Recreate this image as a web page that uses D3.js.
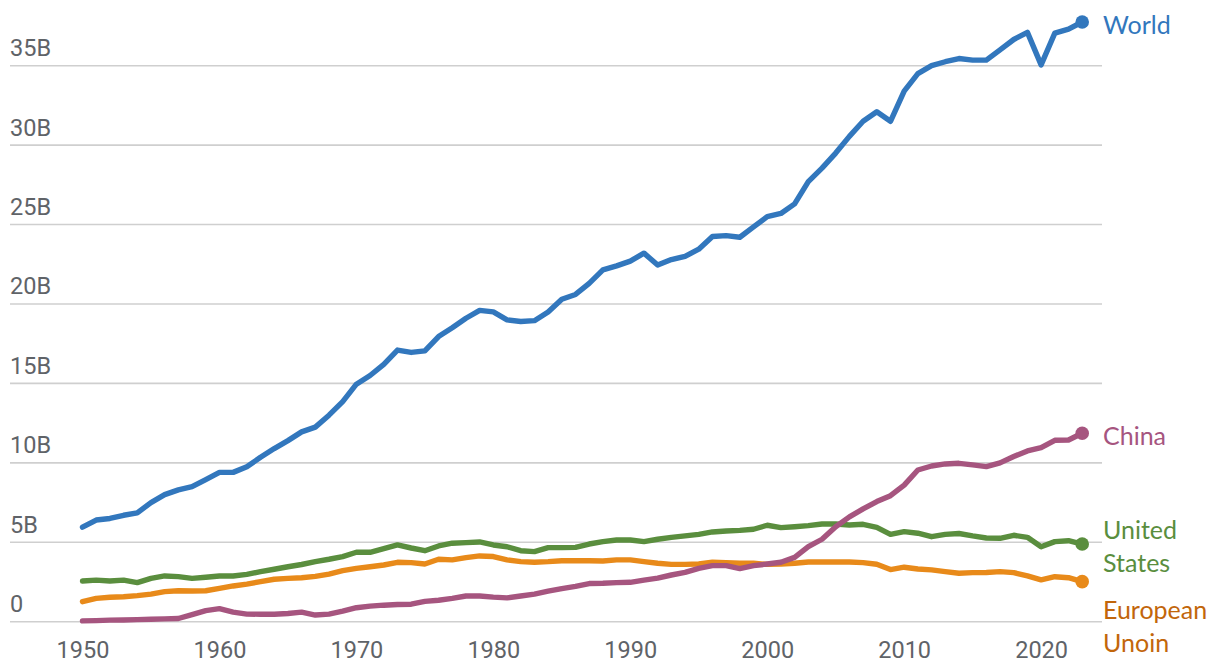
<!DOCTYPE html>
<html lang="en">
<head>
<meta charset="utf-8">
<script src="https://d3js.org/d3.v7.min.js"></script>
<style>
  body { margin: 0; background: #fff; }
  .chart text { font-family: Roboto, "Noto Sans", sans-serif; }
  .axis-label { fill: #5f6368; font-size: 23.5px; }
  .end-label { font-family: Lato, "Noto Sans", sans-serif !important; font-size: 25px; }
</style>
</head>
<body>
<svg class="chart"></svg>
<script>
var width = 1220,
    height = 672;

// values in billions of tonnes, one per year 1950-2023
var years = d3.range(1950, 2024);

var world = [5.95, 6.4, 6.5, 6.7, 6.85, 7.5, 8.0, 8.3, 8.5, 8.95,
  9.4, 9.4, 9.75, 10.35, 10.9, 11.4, 11.95, 12.25, 13.0, 13.85,
  14.95, 15.5, 16.2, 17.1, 16.95, 17.05, 17.95, 18.5, 19.1, 19.6,
  19.5, 19.0, 18.9, 18.95, 19.5, 20.3, 20.6, 21.3, 22.15, 22.4,
  22.7, 23.2, 22.45, 22.8, 23.0, 23.45, 24.25, 24.3, 24.2, 24.85,
  25.5, 25.7, 26.3, 27.7, 28.55, 29.5, 30.55, 31.5, 32.1, 31.5,
  33.4, 34.5, 35.0, 35.25, 35.45, 35.35, 35.35, 36.0, 36.65, 37.1,
  35.05, 37.05, 37.3, 37.75];

var china = [0.05, 0.07, 0.1, 0.11, 0.13, 0.15, 0.18, 0.2, 0.45, 0.7,
  0.82, 0.6, 0.48, 0.47, 0.47, 0.52, 0.6, 0.42, 0.48, 0.66,
  0.88, 0.98, 1.04, 1.08, 1.1, 1.28, 1.35, 1.47, 1.62, 1.62,
  1.55, 1.5, 1.62, 1.74, 1.92, 2.08, 2.22, 2.4, 2.42, 2.46,
  2.48, 2.62, 2.74, 2.94, 3.1, 3.36, 3.53, 3.53, 3.34, 3.53,
  3.63, 3.74, 4.05, 4.72, 5.19, 5.98, 6.6, 7.1, 7.56, 7.93,
  8.6, 9.55, 9.8, 9.93, 9.97, 9.87, 9.76, 10.0, 10.4, 10.75,
  10.96, 11.42, 11.44, 11.86];

var us = [2.56, 2.62, 2.56, 2.62, 2.46, 2.73, 2.88, 2.84, 2.73, 2.8,
  2.88, 2.88, 2.98, 3.15, 3.3, 3.46, 3.6, 3.78, 3.93, 4.1,
  4.37, 4.37, 4.6, 4.83, 4.64, 4.47, 4.77, 4.94, 4.98, 5.02,
  4.83, 4.72, 4.47, 4.41, 4.66, 4.66, 4.68, 4.89, 5.04, 5.14,
  5.14, 5.04, 5.19, 5.31, 5.4, 5.5, 5.65, 5.71, 5.75, 5.82,
  6.07, 5.92, 5.98, 6.05, 6.15, 6.15, 6.09, 6.13, 5.94, 5.5,
  5.67, 5.57, 5.35, 5.5, 5.55, 5.4, 5.27, 5.25, 5.44, 5.31,
  4.72, 5.04, 5.1, 4.89];

var eu = [1.26, 1.47, 1.54, 1.57, 1.64, 1.74, 1.89, 1.95, 1.93, 1.95,
  2.1, 2.25, 2.37, 2.52, 2.67, 2.73, 2.77, 2.85, 3.0, 3.21,
  3.36, 3.46, 3.57, 3.74, 3.72, 3.63, 3.93, 3.89, 4.03, 4.14,
  4.1, 3.89, 3.78, 3.74, 3.78, 3.84, 3.84, 3.84, 3.82, 3.89,
  3.89, 3.78, 3.68, 3.61, 3.61, 3.63, 3.74, 3.72, 3.68, 3.68,
  3.61, 3.63, 3.68, 3.76, 3.76, 3.76, 3.76, 3.72, 3.62, 3.28,
  3.43, 3.32, 3.26, 3.15, 3.05, 3.09, 3.1, 3.15, 3.09, 2.88,
  2.63, 2.83, 2.77, 2.52];

var seriesNames = ["European Unoin", "United States", "China", "World"];
var seriesValues = [eu, us, china, world];
var lineColors = ["#e88a1a", "#5a8e3e", "#a6557f", "#3277bd"];
var labelColors = ["#c2660b", "#5a8e3e", "#a6557f", "#3277bd"];
var labelLines = [["European", "Unoin"], ["United", "States"], ["China"], ["World"]];

var yTicks = [0, 5, 10, 15, 20, 25, 30, 35];
var yTickLabels = ["0", "5B", "10B", "15B", "20B", "25B", "30B", "35B"];
var xTicks = [1950, 1960, 1970, 1980, 1990, 2000, 2010, 2020];

var chart = d3.select(".chart")
    .attr("width", width)
    .attr("height", height);

var x = d3.scaleLinear()
    .domain([1950, 2023])
    .range([82.5, 1082.2]);

var y = d3.scaleLinear()
    .domain([0, 35])
    .range([621.7, 65.7]);

// grid + y labels
var grid = chart.append("g");
grid.selectAll("line")
    .data(yTicks)
  .enter().append("line")
    .attr("x1", 10)
    .attr("x2", 1102)
    .attr("y1", function(d) { return y(d); })
    .attr("y2", function(d) { return y(d); })
    .attr("stroke", "#cfcfcf")
    .attr("stroke-width", 1.6);

grid.selectAll("text")
    .data(yTicks)
  .enter().append("text")
    .attr("class", "axis-label")
    .attr("x", 10)
    .attr("y", function(d) { return y(d) - 9.5; })
    .text(function(d, i) { return yTickLabels[i]; });

// x axis labels
var xAxis = d3.axisBottom(x)
    .tickValues(xTicks)
    .tickFormat(d3.format("d"))
    .tickSize(0)
    .tickPadding(0);

var xg = chart.append("g")
    .attr("transform", "translate(0,640)")
    .call(xAxis);
xg.select(".domain").remove();
xg.selectAll("text")
    .attr("class", "axis-label")
    .attr("dy", "0.78em")
    .attr("font-family", null)
    .attr("font-size", null)
    .attr("fill", null);

// lines
var line = d3.line()
    .x(function(d, i) { return x(years[i]); })
    .y(function(d) { return y(d); });

var series = chart.selectAll(".series")
    .data(seriesValues)
  .enter().append("g")
    .attr("class", "series");

series.append("path")
    .attr("d", line)
    .attr("fill", "none")
    .attr("stroke", function(d, i) { return lineColors[i]; })
    .attr("stroke-width", 5.4)
    .attr("stroke-linejoin", "round")
    .attr("stroke-linecap", "round");

series.append("circle")
    .attr("cx", x(2023))
    .attr("cy", function(d) { return y(d[d.length - 1]); })
    .attr("r", 6.8)
    .attr("fill", function(d, i) { return lineColors[i]; });

// end labels, pushed down so blocks don't overlap
var lineHeight = 33, gap = 14;
var blocks = seriesValues.map(function(d, i) {
  var h = labelLines[i].length * lineHeight;
  return { i: i, center: y(d[d.length - 1]), h: h };
});
blocks.sort(function(a, b) { return a.center - b.center; });
var lastBottom = -Infinity;
blocks.forEach(function(b) {
  var top = b.center - b.h / 2;
  if (top < lastBottom + gap) top = lastBottom + gap;
  b.top = top;
  lastBottom = top + b.h;
});

blocks.forEach(function(b) {
  var t = chart.append("text")
      .attr("class", "end-label")
      .attr("fill", labelColors[b.i]);
  labelLines[b.i].forEach(function(s, k) {
    t.append("tspan")
        .attr("x", 1103)
        .attr("y", b.top + k * lineHeight + lineHeight / 2 + 11.5)
        .text(s);
  });
});
</script>
</body>
</html>
